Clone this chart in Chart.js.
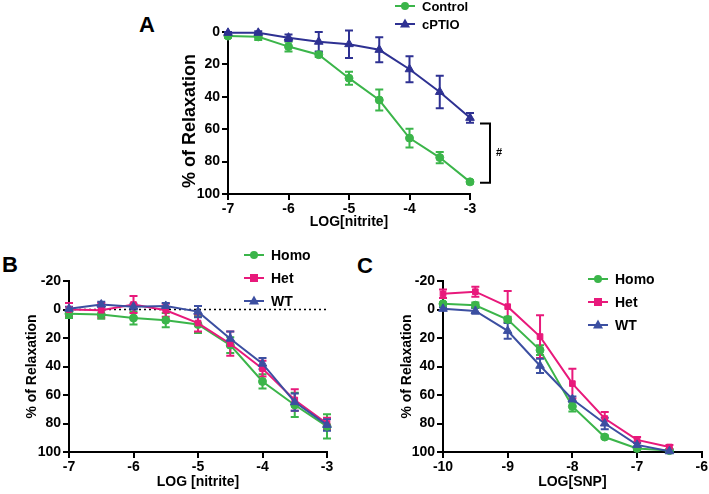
<!DOCTYPE html>
<html>
<head>
<meta charset="utf-8">
<script src="https://cdn.jsdelivr.net/npm/chart.js@4.4.0/dist/chart.umd.min.js"></script>
<style>
body { margin: 0; background: #fff; width: 709px; height: 494px; position: relative; overflow: hidden; font-family: "Liberation Sans", Arial, sans-serif; }
canvas { position: absolute; }
.panel { position: absolute; font-weight: bold; font-size: 22px; line-height: 1; color: #000; }
</style>
</head>
<body>
<div class="panel" style="left:139px;top:14px">A</div>
<div class="panel" style="left:2px;top:254px">B</div>
<div class="panel" style="left:357px;top:255px">C</div>
<canvas id="chartA" width="420" height="250" style="left:120px;top:0px"></canvas>
<canvas id="chartB" width="350" height="244" style="left:0px;top:250px"></canvas>
<canvas id="chartC" width="359" height="244" style="left:350px;top:250px"></canvas>
<script>
// panel A
var doseA = [-7, -6.5, -6, -5.5, -5, -4.5, -4, -3.5, -3];
var controlA = [2.5, 3, 9, 14, 28.5, 42, 65.5, 77.5, 92.5];
var controlAErr = [1, 2, 3, 1.5, 4, 6.5, 5.8, 3.5, 1];
var cptioA = [0.5, 0.5, 3.5, 6, 7.5, 11, 23, 37, 53];
var cptioAErr = [0.5, 1, 2, 6, 8.5, 7.7, 8, 10, 3];
var xTicksA = [-7, -6, -5, -4, -3];
var yTicksA = [0, 20, 40, 60, 80, 100];

// panel B
var doseB = [-7, -6.5, -6, -5.5, -5, -4.5, -4, -3.5, -3];
var homoB = [3, 3.5, 6, 7.5, 10.5, 25, 50.5, 67, 82];
var homoBErr = [3, 3, 4.5, 5, 6, 5.5, 5, 8.5, 8.5];
var hetB = [0, 0.5, -3.5, 0.5, 9.5, 24, 41.5, 63.5, 80];
var hetBErr = [4.5, 5, 6, 4.5, 6, 8.5, 5.5, 7.5, 4];
var wtB = [-0.5, -3.5, -2, -2.5, 1.5, 20.5, 38, 65, 81];
var wtBErr = [1.5, 2, 2, 2, 4, 5, 4, 6, 4];
var xTicksB = [-7, -6, -5, -4, -3];
var yTicksB = [-20, 0, 20, 40, 60, 80, 100];

// panel C
var doseC = [-10, -9.5, -9, -8.5, -8, -7.5, -7, -6.5];
var homoC = [-4, -3, 7, 28.5, 68, 89.5, 97.5, 99];
var homoCErr = [1, 2, 2, 3.5, 3.5, 1, 1, 1];
var hetC = [-11, -12.5, -2, 19, 52, 76.5, 91.5, 96.5];
var hetCErr = [3, 3.5, 11, 15, 10.5, 4.5, 2, 1.5];
var wtC = [-0.5, 1, 15, 39.5, 63, 80, 95, 99.5];
var wtCErr = [1, 2, 5.5, 5, 2, 4, 1.5, 0.5];
var xTicksC = [-10, -9, -8, -7, -6];
var yTicksC = [-20, 0, 20, 40, 60, 80, 100];

var GREEN = '#3bb54a';
var NAVY = '#2e3192';
var BLUE = '#3c4fa1';
var PINK = '#e8197b';
var FONT = '"Liberation Sans", Arial, sans-serif';

Chart.defaults.font.family = FONT;
Chart.defaults.color = '#000';

function pts(xs, ys) {
    return xs.map(function(x, i) { return { x: x, y: ys[i] }; });
}

function series(label, xs, ys, err, color, style, order) {
    return {
        label: label,
        data: pts(xs, ys),
        err: err,
        borderColor: color,
        backgroundColor: color,
        borderWidth: 2,
        pointStyle: style,
        pointRadius: style == 'triangle' ? 5 : 4,
        pointBorderWidth: 1,
        tension: 0,
        clip: false,
        order: order
    };
}

function marker(ctx, style, x, y, r) {
    ctx.beginPath();
    if (style == 'circle') {
        ctx.arc(x, y, r, 0, Math.PI * 2);
    } else if (style == 'rect') {
        ctx.rect(x - r, y - r, r * 2, r * 2);
    } else {
        ctx.moveTo(x, y - r * 1.1);
        ctx.lineTo(x + r, y + r * 0.7);
        ctx.lineTo(x - r, y + r * 0.7);
        ctx.closePath();
    }
    ctx.fill();
}

// vertical SEM bars
var errorBars = {
    id: 'errorBars',
    beforeDatasetsDraw: function(chart) {
        var ctx = chart.ctx, ys = chart.scales.y;
        chart.data.datasets.forEach(function(ds, i) {
            var meta = chart.getDatasetMeta(i);
            ctx.save();
            ctx.strokeStyle = ds.borderColor;
            ctx.lineWidth = 2;
            meta.data.forEach(function(pt, j) {
                var v = ds.data[j].y, e = ds.err[j];
                var t = ys.getPixelForValue(v - e), b = ys.getPixelForValue(v + e);
                ctx.beginPath();
                ctx.moveTo(pt.x, t); ctx.lineTo(pt.x, b);
                ctx.moveTo(pt.x - 4, t); ctx.lineTo(pt.x + 4, t);
                ctx.moveTo(pt.x - 4, b); ctx.lineTo(pt.x + 4, b);
                ctx.stroke();
            });
            ctx.restore();
        });
    }
};

// legend with line through the marker
var lineLegend = {
    id: 'lineLegend',
    afterDraw: function(chart, args, opts) {
        var ctx = chart.ctx;
        ctx.save();
        ctx.font = 'bold ' + opts.size + 'px ' + FONT;
        ctx.textBaseline = 'middle';
        chart.data.datasets.forEach(function(ds, i) {
            var y = opts.y + i * opts.gap;
            ctx.strokeStyle = ds.borderColor;
            ctx.fillStyle = ds.borderColor;
            ctx.lineWidth = 2;
            ctx.beginPath();
            ctx.moveTo(opts.x - 10, y); ctx.lineTo(opts.x + 10, y);
            ctx.stroke();
            marker(ctx, ds.pointStyle, opts.x, y, ds.pointRadius);
            ctx.fillStyle = '#000';
            ctx.fillText(ds.label, opts.x + 17, y + 1);
        });
        ctx.restore();
    }
};

// dotted baseline at 0
var zeroLine = {
    id: 'zeroLine',
    beforeDatasetsDraw: function(chart, args, opts) {
        if (!opts.show) return;
        var ctx = chart.ctx, a = chart.chartArea;
        var y = chart.scales.y.getPixelForValue(0);
        ctx.save();
        ctx.strokeStyle = '#000';
        ctx.lineWidth = 1.5;
        ctx.setLineDash([2, 3]);
        ctx.beginPath();
        ctx.moveTo(a.left, y); ctx.lineTo(a.right, y);
        ctx.stroke();
        ctx.restore();
    }
};

// significance bracket (panel A)
var bracket = {
    id: 'bracket',
    afterDraw: function(chart, args, opts) {
        if (!opts.range) return;
        var ctx = chart.ctx;
        var x = chart.scales.x.getPixelForValue(opts.at) + 20;
        var t = chart.scales.y.getPixelForValue(opts.range[0]);
        var b = chart.scales.y.getPixelForValue(opts.range[1]);
        ctx.save();
        ctx.strokeStyle = '#000';
        ctx.lineWidth = 2;
        ctx.beginPath();
        ctx.moveTo(x - 10, t); ctx.lineTo(x, t); ctx.lineTo(x, b); ctx.lineTo(x - 10, b);
        ctx.stroke();
        ctx.fillStyle = '#000';
        ctx.font = 'bold 11px ' + FONT;
        ctx.textBaseline = 'middle';
        ctx.fillText('#', x + 6, (t + b) / 2);
        ctx.restore();
    }
};

// y title placed by hand where it is off-centre (panel A)
var sideTitle = {
    id: 'sideTitle',
    afterDraw: function(chart, args, opts) {
        if (!opts.text) return;
        var ctx = chart.ctx;
        ctx.save();
        ctx.translate(opts.x, opts.y);
        ctx.rotate(-Math.PI / 2);
        ctx.font = 'bold ' + opts.size + 'px ' + FONT;
        ctx.fillStyle = '#000';
        ctx.textAlign = 'center';
        ctx.textBaseline = 'middle';
        ctx.fillText(opts.text, 0, 0);
        ctx.restore();
    }
};

function axes(p) {
    var line = { display: true, drawOnChartArea: false, drawTicks: true, tickLength: 6, color: '#000', lineWidth: 2 };
    return {
        x: {
            type: 'linear', min: p.xTicks[0], max: p.xTicks[p.xTicks.length - 1],
            grid: line, border: { display: true, color: '#000', width: 2 },
            afterBuildTicks: function(s) { s.ticks = p.xTicks.map(function(v) { return { value: v }; }); },
            afterFit: function(s) { s.height = p.xh; },
            ticks: { font: { size: 14, weight: 'bold' }, color: '#000', padding: 1, maxRotation: 0 },
            title: { display: true, text: p.xTitle, font: { size: 14, weight: 'bold' }, color: '#000', padding: 0 }
        },
        y: {
            type: 'linear', reverse: true, min: p.yTicks[0], max: p.yTicks[p.yTicks.length - 1],
            grid: line, border: { display: true, color: '#000', width: 2 },
            afterBuildTicks: function(s) { s.ticks = p.yTicks.map(function(v) { return { value: v }; }); },
            afterFit: function(s) { s.width = p.yw; },
            ticks: { font: { size: 14, weight: 'bold' }, color: '#000', padding: 2 },
            title: { display: !p.sideTitle, text: '% of Relaxation', font: { size: 14, weight: 'bold' }, color: '#000', padding: 0 }
        }
    };
}

function draw(id, datasets, p) {
    return new Chart(document.getElementById(id), {
        type: 'line',
        data: { datasets: datasets },
        options: {
            responsive: false,
            animation: false,
            devicePixelRatio: 1,
            layout: { padding: p.pad },
            scales: axes(p),
            plugins: {
                legend: { display: false },
                tooltip: { enabled: false },
                lineLegend: p.legend,
                zeroLine: { show: !!p.zero },
                bracket: p.bracket || {},
                sideTitle: p.sideTitle || {}
            }
        },
        plugins: [errorBars, zeroLine, lineLegend, bracket, sideTitle]
    });
}

draw('chartA', [
    series('Control', doseA, controlA, controlAErr, GREEN, 'circle', 1),
    series('cPTIO', doseA, cptioA, cptioAErr, NAVY, 'triangle', 0)
], {
    pad: { left: 60, top: 32, right: 70, bottom: 19 },
    yw: 48, xh: 37,
    xTicks: xTicksA, yTicks: yTicksA, xTitle: 'LOG[nitrite]',
    sideTitle: { text: '% of Relaxation', x: 70, y: 121, size: 18 },
    legend: { x: 285, y: 6, gap: 18, size: 13 },
    bracket: { at: -3, range: [56.5, 93] }
});

draw('chartB', [
    series('Homo', doseB, homoB, homoBErr, GREEN, 'circle', 2),
    series('Het', doseB, hetB, hetBErr, PINK, 'rect', 1),
    series('WT', doseB, wtB, wtBErr, BLUE, 'triangle', 0)
], {
    pad: { left: 24, top: 31, right: 23, bottom: 3 },
    yw: 45, xh: 39, zero: true,
    xTicks: xTicksB, yTicks: yTicksB, xTitle: 'LOG [nitrite]',
    legend: { x: 254, y: 5, gap: 23, size: 14 }
});

draw('chartC', [
    series('Homo', doseC, homoC, homoCErr, GREEN, 'circle', 2),
    series('Het', doseC, hetC, hetCErr, PINK, 'rect', 1),
    series('WT', doseC, wtC, wtCErr, BLUE, 'triangle', 0)
], {
    pad: { left: 49, top: 31, right: 7, bottom: 3 },
    yw: 44, xh: 39,
    xTicks: xTicksC, yTicks: yTicksC, xTitle: 'LOG[SNP]',
    legend: { x: 248, y: 29, gap: 23, size: 14 }
});
</script>
</body>
</html>
